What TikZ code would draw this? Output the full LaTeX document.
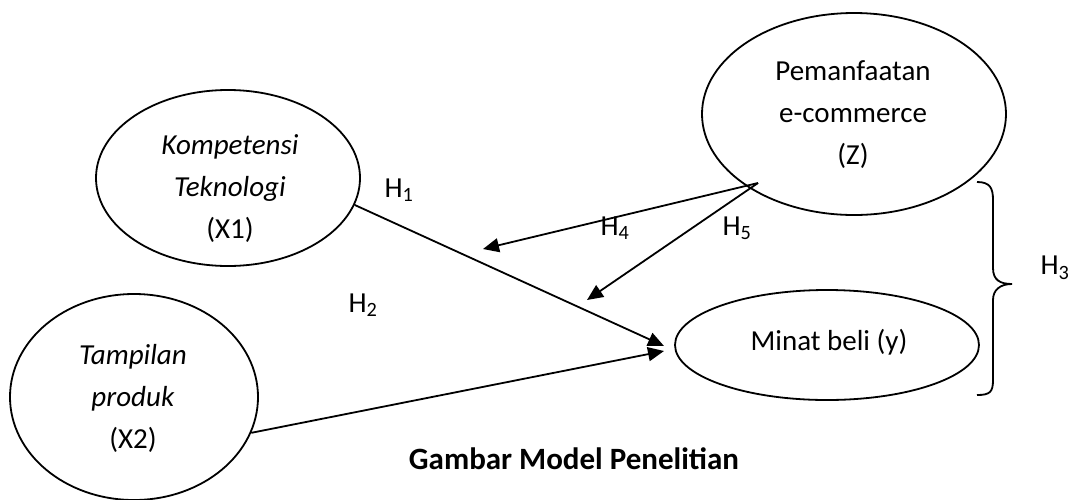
\documentclass[tikz,border=0pt]{standalone}
\usepackage{fontspec}
\setmainfont{Carlito}
\usetikzlibrary{arrows.meta, shapes.geometric, calc}
\tikzset{
	var/.style={draw, ellipse, line width=1.8pt, inner sep=0pt},
	vartext/.style={align=center, inner sep=0pt},
	hyp/.style={line width=1.8pt, arrows={-Triangle[length=16pt,width=14pt]}},
}

\begin{document}
\begin{tikzpicture}[x=1pt,y=-1pt,font=\fontsize{29}{42}\selectfont]
	\useasboundingbox (0,0) rectangle (1072,499);

	\coordinate (t1) at (664,346);
	\coordinate (t2) at (664,351);
	\coordinate (zs) at (758,183);
	\coordinate (h4e) at (483,249);
	\coordinate (h5e) at (587,300);

	% variables
	\node[var, minimum width=264, minimum height=176] (x1) at (228,178) {};
	\node[var, minimum width=248, minimum height=206] (x2) at (134,397) {};
	\node[var, minimum width=304, minimum height=202] (z) at (854,114) {};
	\node[var, minimum width=304, minimum height=110] (y) at (827,345) {};

	\node[vartext] (x1t) at (230,189) {\textit{Kompetensi}\\\textit{Teknologi}\\(X1)};
	\node[vartext] (x2t) at (133,398) {\textit{Tampilan}\\\textit{produk}\\(X2)};
	\node[vartext] (zt) at (853,115) {Pemanfaatan\\e-commerce\\(Z)};
	\node[vartext] (yt) at (829,342) {Minat beli (y)};

	% hypotheses
	\draw[hyp] (x1.-12) -- (t1);
	\draw[hyp] (x2.-17) -- (t2);
	\draw[hyp] (zs) -- (h4e);
	\draw[hyp] (zs) -- (h5e);

	\node (h1) at (399,190) {H\textsubscript{1}};
	\node (h2) at (363,305) {H\textsubscript{2}};
	\node (h4) at (615,228) {H\textsubscript{4}};
	\node (h5) at (737,228) {H\textsubscript{5}};
	\node (h3) at (1055,268) {H\textsubscript{3}};

	% brace
	\draw[line width=1.8pt] (977,182) .. controls (990,182) and (993,188) .. (993,200) -- (993,268)
		.. controls (993,280) and (1000,284) .. (1012,284)
		.. controls (1000,284) and (993,290) .. (993,300) -- (993,380)
		.. controls (993,392) and (990,395) .. (977,395);

	\node[font=\fontsize{31}{38}\selectfont\bfseries] (cap) at (574,459) {Gambar Model Penelitian};
\end{tikzpicture}
\end{document}
